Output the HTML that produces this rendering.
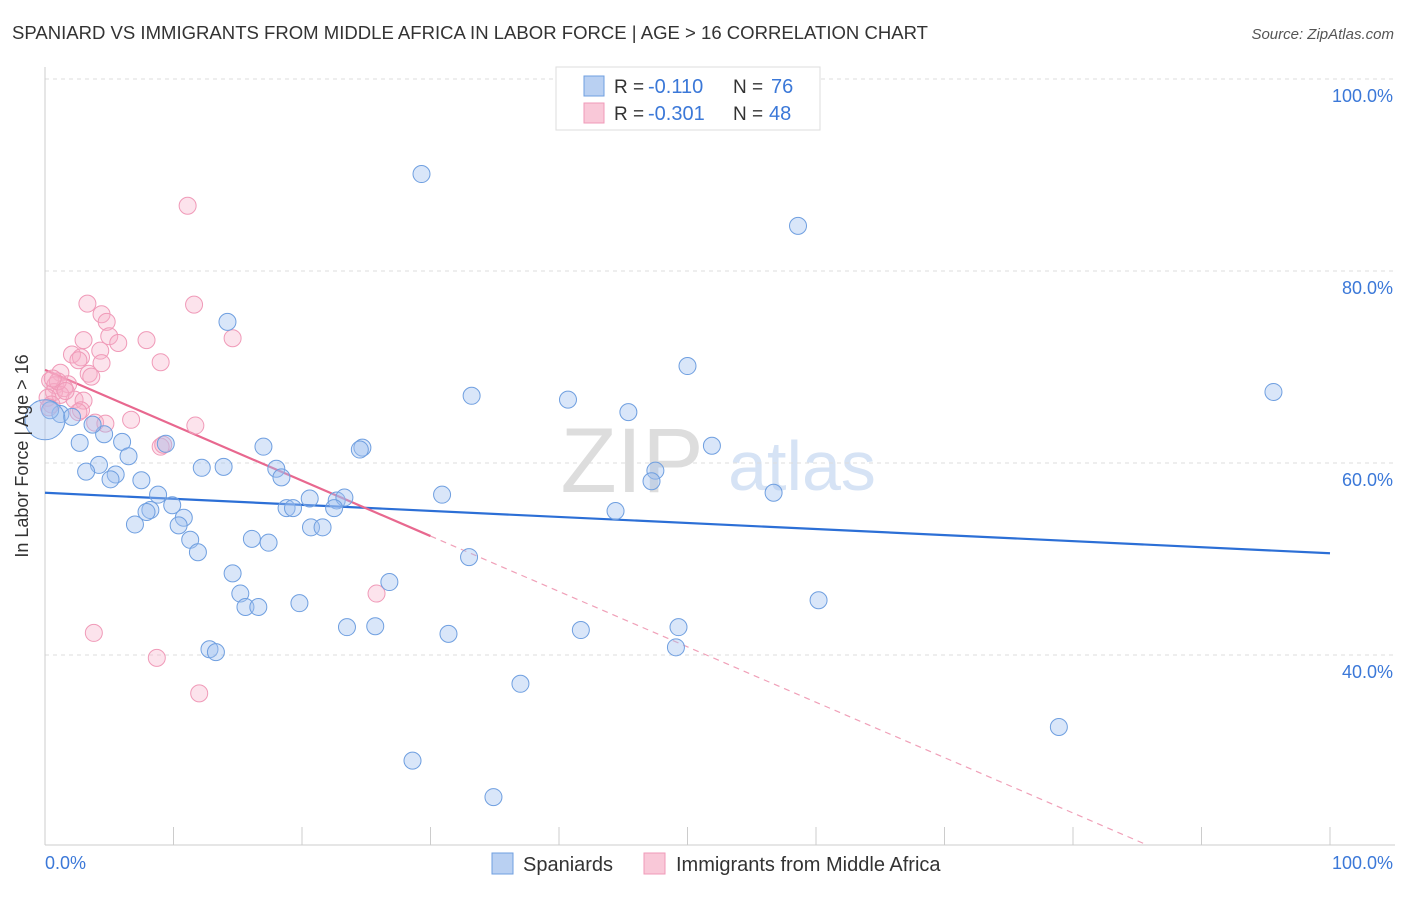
<!DOCTYPE html>
<html><head><meta charset="utf-8"><style>
body{margin:0;background:#fff;font-family:"Liberation Sans",sans-serif;}
svg text{font-family:"Liberation Sans",sans-serif;}
</style></head><body>
<svg id="chart" width="1406" height="892">
<text x="12" y="39" font-size="18.5" fill="#333" textLength="916" lengthAdjust="spacingAndGlyphs">SPANIARD VS IMMIGRANTS FROM MIDDLE AFRICA IN LABOR FORCE | AGE &gt; 16 CORRELATION CHART</text>
<text x="1394" y="39" font-size="15" fill="#555" font-style="italic" text-anchor="end">Source: ZipAtlas.com</text>
<text x="632" y="492" font-size="92" fill="#ddd" font-family="Liberation Serif" text-anchor="middle">ZIP</text>
<text x="802" y="490" font-size="70" fill="#d6e3f5" text-anchor="middle">atlas</text>
<g id="grid"></g><g id="axes"></g><g id="lines"></g><g id="pts"></g>
<text x="28" y="456" font-size="18" fill="#333" transform="rotate(-90 28 456)" text-anchor="middle">In Labor Force | Age &gt; 16</text>
<text x="45" y="869" font-size="18" fill="#3b78d8">0.0%</text>
<text x="1393" y="869" font-size="18" fill="#3b78d8" text-anchor="end">100.0%</text>
<g>
<rect x="556" y="67" width="264" height="63" fill="#fff" stroke="#ddd"/>
<rect x="584" y="76" width="20" height="20" fill="#b9d0f2" stroke="#6f9fe0"/>
<rect x="584" y="103" width="20" height="20" fill="#f9c8d8" stroke="#f09ab8"/>
<text x="614" y="93" font-size="19" fill="#333">R =</text>
<text x="648" y="93" font-size="20" fill="#3b78d8">-0.110</text>
<text x="733" y="93" font-size="19" fill="#333">N =</text>
<text x="771" y="93" font-size="20" fill="#3b78d8">76</text>
<text x="614" y="120" font-size="19" fill="#333">R =</text>
<text x="648" y="120" font-size="20" fill="#3b78d8">-0.301</text>
<text x="733" y="120" font-size="19" fill="#333">N =</text>
<text x="769" y="120" font-size="20" fill="#3b78d8">48</text>
</g>
<g>
<rect x="492" y="853" width="21" height="21" fill="#b9d0f2" stroke="#6f9fe0"/>
<text x="523" y="871" font-size="20" fill="#333">Spaniards</text>
<rect x="644" y="853" width="21" height="21" fill="#f9c8d8" stroke="#f09ab8"/>
<text x="676" y="871" font-size="20" fill="#333">Immigrants from Middle Africa</text>
</g>
</svg>
<script>
const yTicks=[40,60,80,100];
const yTickLabels=["40.0%","60.0%","80.0%","100.0%"];
const xTicks=[0,10,20,30,40,50,60,70,80,90,100];
const blueX=[29.3,58.6,14.2,50.0,95.6,33.2,40.7,45.4,51.9,24.7,24.5,17.0,9.4,6.0,2.7,4.6,3.7,1.2,2.1,0.4,6.5,4.2,3.2,5.5,5.1,7.5,12.2,13.9,18.0,18.4,47.5,47.2,30.9,56.7,8.8,9.9,8.2,7.9,10.8,10.4,7.0,11.3,11.9,16.1,17.4,18.8,19.3,20.6,22.7,23.3,22.5,20.7,21.6,44.4,33.0,14.6,15.2,15.6,16.6,19.8,26.8,60.2,23.5,25.7,31.4,41.7,49.3,49.1,12.8,13.3,37.0,78.9,28.6,34.9];
const blueY=[90.1,84.7,74.7,70.1,67.4,67.0,66.6,65.3,61.8,61.6,61.4,61.7,62.0,62.2,62.1,63.0,64.0,65.1,64.8,65.5,60.7,59.8,59.1,58.8,58.3,58.2,59.5,59.6,59.4,58.5,59.2,58.1,56.7,56.9,56.7,55.6,55.1,54.9,54.3,53.5,53.6,52.0,50.7,52.1,51.7,55.3,55.3,56.3,56.1,56.4,55.3,53.3,53.3,55.0,50.2,48.5,46.4,45.0,45.0,45.4,47.6,45.7,42.9,43.0,42.2,42.6,42.9,40.8,40.6,40.3,37.0,32.5,29.0,25.2];
const pinkX=[11.1,3.3,11.6,4.4,4.8,5.0,14.6,7.9,5.7,3.0,4.3,2.1,2.8,2.6,9.0,4.4,3.4,3.6,1.2,0.4,0.8,1.8,1.5,0.7,2.3,3.0,1.2,0.2,0.5,2.8,2.6,0.3,3.9,4.7,6.7,11.7,9.0,9.2,25.8,3.8,8.7,12.0,1.0,0.6,1.6];
const pinkY=[86.8,76.6,76.5,75.5,74.7,73.2,73.0,72.8,72.5,72.8,71.7,71.3,71.0,70.7,70.5,70.4,69.3,69.0,69.4,68.6,68.1,68.2,67.8,67.4,66.6,66.5,67.1,66.8,66.1,65.5,65.3,65.8,64.2,64.1,64.5,63.9,61.7,61.9,46.4,42.3,39.7,36.0,68.5,68.8,67.5];
const blueTrend=[56.9,50.6];
const pinkTrend=[69.7,12.0];
const pinkSolidEnd=30;
const NS="http://www.w3.org/2000/svg";
const X0=45,X1=1330,Y0=1039,PXPCT=9.6,YMIN=20.2;
const sx=v=>X0+(X1-X0)*v/100, sy=v=>Y0-v*PXPCT;
function mk(t,a,p){const e=document.createElementNS(NS,t);for(const k in a)e.setAttribute(k,a[k]);p.appendChild(e);return e;}
const grid=document.getElementById('grid'),axes=document.getElementById('axes'),lines=document.getElementById('lines'),pts=document.getElementById('pts');
yTicks.forEach((t,i)=>{
 const g=mk('line',{x1:45,y1:sy(t),x2:1395,y2:sy(t),stroke:'#ddd','stroke-dasharray':'4,4'},grid);
 
 
 const tx=mk('text',{x:1393,y:sy(t)+23,'font-size':18,fill:'#3b78d8','text-anchor':'end'},axes);
 tx.textContent=yTickLabels[i];
 
 
});
const ya=mk('line',{x1:45,y1:67,x2:45,y2:845,stroke:'#ccc'},axes);


const xa=mk('line',{x1:45,y1:845,x2:1395,y2:845,stroke:'#ccc'},axes);


xTicks.forEach(t=>{const l=mk('line',{x1:sx(t),y1:827,x2:sx(t),y2:845,stroke:'#ccc'},axes);
 
 });
function dot(x,y,r,fill,stroke,name){const c=mk('circle',{cx:sx(x),cy:sy(y),r:r,fill:fill,stroke:stroke,'stroke-width':1},pts);
 
 }
pinkX.forEach((x,i)=>dot(x,pinkY[i],8.5,'rgba(247,175,200,0.35)','#f09ab8','point-immigrants'));
blueX.forEach((x,i)=>dot(x,blueY[i],8.5,'rgba(160,192,240,0.4)','#6f9fe0','point-spaniards'));
dot(0,64.5,20,'rgba(160,192,240,0.4)','#6f9fe0','point-spaniards-large');
const bl=mk('line',{x1:sx(0),y1:sy(blueTrend[0]),x2:sx(100),y2:sy(blueTrend[1]),stroke:'#2c6fd6','stroke-width':2.2},lines);


const pf=x=>pinkTrend[0]+(pinkTrend[1]-pinkTrend[0])*x/100;
const xEnd=(pinkTrend[0]-YMIN)/(pinkTrend[0]-pinkTrend[1])*100;
const ps=mk('line',{x1:sx(0),y1:sy(pf(0)),x2:sx(pinkSolidEnd),y2:sy(pf(pinkSolidEnd)),stroke:'#e8688f','stroke-width':2.2},lines);


const pd=mk('line',{x1:sx(pinkSolidEnd),y1:sy(pf(pinkSolidEnd)),x2:sx(xEnd),y2:sy(pf(xEnd)),stroke:'#f0a0b8','stroke-width':1.2,'stroke-dasharray':'6,5'},lines);


</script>
</body></html>
